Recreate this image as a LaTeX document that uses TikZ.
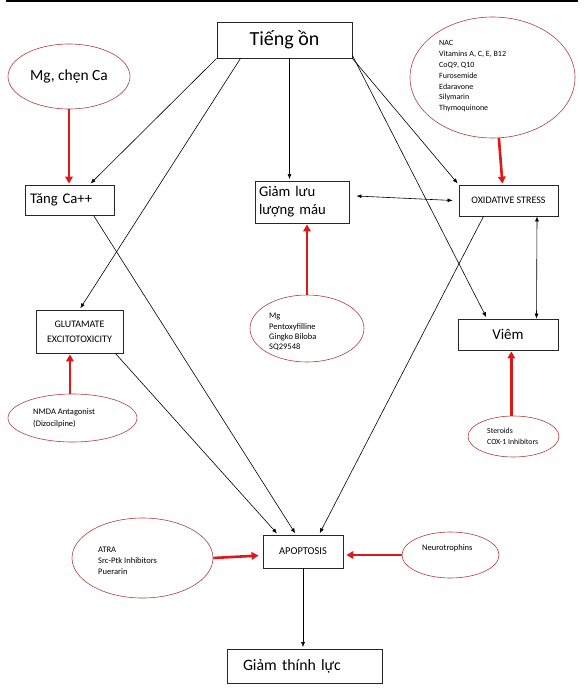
\documentclass[tikz,border=0pt]{standalone}
\usepackage{fontspec}
\setmainfont{Carlito}
\usetikzlibrary{arrows.meta,shapes.geometric}

\definecolor{ellred}{RGB}{175,62,64}
\definecolor{blockred}{RGB}{225,22,22}

\tikzset{
  box/.style={draw=black!85, line width=0.8pt, rectangle, inner sep=0pt},
  drug/.style={draw=ellred, line width=0.6pt, ellipse, inner sep=0pt},
  drugtext/.style={anchor=north west, inner sep=0pt, align=left},
  arr/.style={-{Latex[length=5pt,width=4pt]}, line width=0.6pt, shorten >=1.5pt},
  dblarr/.style={{Latex[length=5pt,width=4pt]}-{Latex[length=5pt,width=4pt]}, line width=0.6pt},
  block/.style={-{Triangle[length=7pt,width=7.5pt]}, line width=2.6pt, blockred, shorten >=1pt},
}

\begin{document}
\begin{tikzpicture}[x=1pt,y=-1pt]
\useasboundingbox (0,0) rectangle (584,695);
% rule on top
\draw[line width=2.5pt] (6,1.2) -- (578,1.2);

% cause and damage boxes
\node[box, minimum width=135pt, minimum height=36pt, font=\fontsize{20}{24}\selectfont] (noise) at (284.5,40) {Tiếng ồn};
\node[box, text width=79pt, inner xsep=5pt, minimum height=30pt, align=left, font=\fontsize{14.7}{18}\selectfont] (ca) at (69.5,200) {Tăng Ca++};
\node[box, text width=86pt, inner xsep=4pt, minimum height=42pt, align=left, font=\fontsize{14.7}{18}\selectfont] (blood) at (302,202) {Giảm lưu\\lượng máu};
\node[box, minimum width=99pt, minimum height=31pt, font=\fontsize{10}{12}\selectfont] (ox) at (508.5,200.5) {OXIDATIVE STRESS};
\node[box, minimum width=87pt, minimum height=43pt, align=center, font=\fontsize{10}{15}\selectfont] (glu) at (79.5,331.5) {GLUTAMATE\\EXCITOTOXICITY};
\node[box, minimum width=100pt, minimum height=31pt, font=\fontsize{15}{18}\selectfont] (viem) at (508,334.5) {Viêm};
\node[box, minimum width=80pt, minimum height=33pt, font=\fontsize{10.5}{12}\selectfont] (apop) at (303,551.5) {APOPTOSIS};
\node[box, text width=123pt, inner xsep=16pt, minimum height=34pt, align=left, font=\fontsize{15.8}{18}\selectfont] (outcome) at (304.5,666) {Giảm thính lực};

% drug ellipses
\node[drug, minimum width=122pt, minimum height=65pt, font=\fontsize{15.5}{18}\selectfont] (mgca) at (69,76.5) {Mg, chẹn Ca};
\node[drug, minimum width=165pt, minimum height=121pt] (antiox) at (492.5,77.5) {};
\node[drugtext, font=\fontsize{8}{10.8}\selectfont] (antioxtxt) at (439,40.5) {NAC\\Vitamins A, C, E, B12\\CoQ9, Q10\\Furosemide\\Edaravone\\Silymarin\\Thymoquinone};
\node[drug, minimum width=114pt, minimum height=67pt] (mgbf) at (307,328.5) {};
\node[drugtext, font=\fontsize{8.5}{10.4}\selectfont] (mgbftxt) at (269,313) {Mg\\Pentoxyfilline\\Gingko Biloba\\SQ29548};
\node[drug, minimum width=129pt, minimum height=48pt] (nmda) at (72.5,418) {};
\node[drugtext, font=\fontsize{8.5}{12.7}\selectfont] (nmdatxt) at (33,408) {NMDA Antagonist\\(Dizocilpine)};
\node[drug, minimum width=91pt, minimum height=41pt] (ster) at (513.5,436.5) {};
\node[drugtext, font=\fontsize{7.8}{10.7}\selectfont] (stertxt) at (487,428) {Steroids\\COX-1 Inhibitors};
\node[drug, minimum width=141pt, minimum height=80pt] (atra) at (142.5,558) {};
\node[drugtext, font=\fontsize{8.5}{10.8}\selectfont] (atratxt) at (98,547) {ATRA\\Src-Ptk Inhibitors\\Puerarin};
\node[drug, minimum width=97pt, minimum height=46pt] (neuro) at (450.5,555) {};
\node[drugtext, font=\fontsize{8.5}{10.8}\selectfont] (neurotxt) at (422,544) {Neurotrophins};

% red arrows
\draw[block] (mgca.south) -- (mgca.south |- ca.north);
\draw[block] (antiox.-84) -- ([xshift=-6pt]ox.north);
\draw[block] (mgbf.north) -- (mgbf.north |- blood.south);
\draw[block] (nmda.96) -- (nmda.96 |- glu.south);
\draw[block] (ster.96) -- (ster.96 |- viem.south);
\draw[block] (atra.east) -- ([xshift=-3pt,yshift=-4pt]apop.west);
\draw[block] (neuro.west) -- ([xshift=2pt]neuro.west -| apop.east);

% black arrows
\draw[arr] (noise.south west) -- ([xshift=20pt]ca.north);
\draw[arr] ([xshift=-44pt]noise.south) -- (glu.north);
\draw[arr] ([xshift=5pt]noise.south) -- ([xshift=5pt]noise.south |- blood.north);
\draw[arr] (noise.south east) -- (ox.north west);
\draw[arr] ([yshift=3pt]noise.south east) -- ([xshift=-21pt]viem.north);
\draw[arr] ([xshift=24pt]ca.south) -- ([xshift=-7pt]apop.north);
\draw[arr] ([xshift=-8pt]glu.south east) -- ([xshift=-25pt]apop.north);
\draw[arr] ([xshift=-25pt]ox.south) -- ([xshift=16pt]apop.north);
\draw[dblarr] ([xshift=7pt,yshift=6pt]blood.east) -- ([xshift=-6pt]ox.west);
\draw[dblarr] ([xshift=28.5pt]ox.south) -- ([xshift=28.5pt]viem.north);
\draw[arr] (apop.south) -- (apop.south |- outcome.north);
\end{tikzpicture}
\end{document}
